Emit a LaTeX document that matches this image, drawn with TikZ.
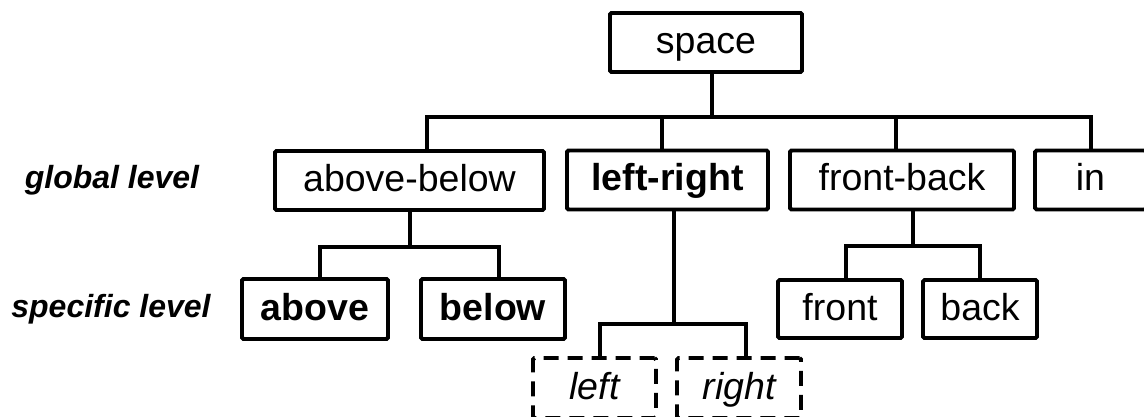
\documentclass[tikz,border=0pt]{standalone}
\usepackage{fontspec}
\setmainfont{Liberation Sans}
\begin{document}
\begin{tikzpicture}[x=1pt,y=-1pt,
  line width=3.9pt,
  box/.style={draw, rounded corners=1.5pt, inner sep=0pt, minimum height=59pt,
    text height=26pt, text depth=4pt, align=center,
    font=\fontsize{37.5}{40}\selectfont},
  dbox/.style={box, dash pattern=on 15pt off 9pt},
  lvl/.style={anchor=base, inner sep=0pt, font=\fontsize{32}{34}\selectfont\bfseries\itshape},
  conn/.style={draw, line join=miter}]
\useasboundingbox (0,0) rectangle (1144,417);

% boxes
\node[box, minimum width=192pt] (space) at (706,42.5) {space};
\node[box, minimum width=269pt] (ab) at (409.5,180.5) {above-below};
\node[box, minimum width=201pt, font=\fontsize{37.5}{40}\selectfont\bfseries] (lr) at (667.5,180) {left-right};
\node[box, minimum width=224pt] (fb) at (902,180) {front-back};
\node[box, minimum width=111pt] (in) at (1090.5,180) {in};

\node[box, minimum width=146pt, minimum height=60pt, font=\fontsize{37.5}{40}\selectfont\bfseries] (above) at (315,309) {above};
\node[box, minimum width=144pt, minimum height=60pt, font=\fontsize{37.5}{40}\selectfont\bfseries] (below) at (493,309) {below};
\node[box, minimum width=124pt, minimum height=58pt] (front) at (840,309) {front};
\node[box, minimum width=114pt, minimum height=58pt] (back) at (980,309) {back};

\node[dbox, minimum width=123pt, minimum height=60pt, font=\fontsize{37.5}{40}\selectfont\itshape] (left) at (594.5,388) {left};
\node[dbox, minimum width=124pt, minimum height=60pt, font=\fontsize{37.5}{40}\selectfont\itshape] (right) at (739,388) {right};

% level labels
\node[lvl] (gl) at (112,189) {global level};
\node[lvl] (sl) at (111,317) {specific level};

% junctions
\coordinate (j0) at (712,117);
\coordinate (j1) at (410,247);
\coordinate (j2) at (674,324);
\coordinate (j3) at (913,246);

% space -> global level
\draw[conn] ([xshift=6pt]space.south) -- (j0);
\draw[conn] ([xshift=17.5pt]ab.north) |- (j0) -| ([xshift=0.5pt]in.north);
\draw[conn] ([xshift=-5.5pt]lr.north) -- ([xshift=-5.5pt]lr.north |- j0);
\draw[conn] ([xshift=-6pt]fb.north) -- ([xshift=-6pt]fb.north |- j0);

% above-below -> above, below
\draw[conn] ([xshift=0.5pt]ab.south) -- (j1);
\draw[conn] ([xshift=5pt]above.north) |- (j1) -| ([xshift=6pt]below.north);

% left-right -> left, right
\draw[conn] ([xshift=6.5pt]lr.south) -- (j2);
\draw[conn] ([xshift=5.5pt]left.north) |- (j2) -| ([xshift=7pt]right.north);

% front-back -> front, back
\draw[conn] ([xshift=11pt]fb.south) -- (j3);
\draw[conn] ([xshift=6pt]front.north) |- (j3) -| (back.north);
\end{tikzpicture}
\end{document}
